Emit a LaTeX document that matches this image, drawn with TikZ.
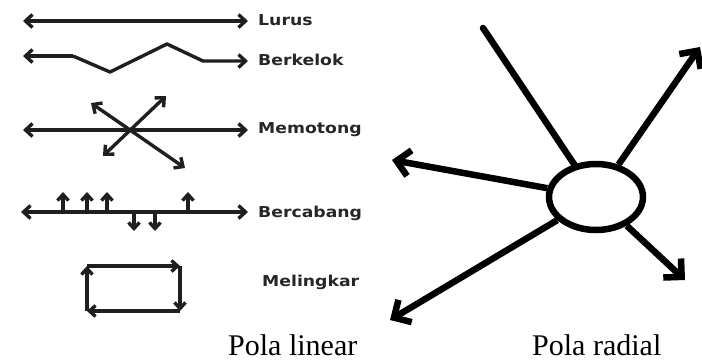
\documentclass[tikz,border=0pt]{standalone}
\usepackage{fontspec}
\setmainfont{Liberation Serif}
\newfontfamily\labelfont{DejaVu Sans}
\usetikzlibrary{arrows.meta,shapes.geometric}

\tikzset{
  tipthin/.tip={Straight Barb[length=7pt,width=13pt,line width=3.4pt]},
  tipsmall/.tip={Straight Barb[length=6pt,width=11pt,line width=3.4pt]},
  thinarrow/.style={line width=3.4pt, draw=black!88, -tipthin},
  botharrow/.style={line width=3.4pt, draw=black!88, tipthin-tipthin},
  smallarrow/.style={line width=3.4pt, draw=black!88, -tipsmall},
  patlabel/.style={anchor=base west, inner sep=0pt, xscale=1.15,
    font=\labelfont\bfseries\fontsize{15}{15}\selectfont, text=black!85},
  caption/.style={anchor=base west, inner sep=0pt,
    font=\fontsize{30}{30}\selectfont},
  thickline/.style={line width=6.5pt, line cap=round},
  thickarrow/.style={line width=6.5pt,
    -{Straight Barb[length=13pt,width=26pt,line width=6.5pt]}},
  hubstyle/.style={ellipse, draw, line width=6.5pt, minimum width=94pt,
    minimum height=66pt, inner sep=0pt}
}

\begin{document}
\begin{tikzpicture}[x=1pt,y=-1pt]
\useasboundingbox (0,0) rectangle (702,360);

% ---------- linear patterns ----------
% Lurus
\node[patlabel] (lurus) at (258,25.7) {Lurus};
\coordinate (l1) at (23,21);
\coordinate (l2) at (248,21);
\draw[botharrow] (l1) -- (l2);

% Berkelok
\node[patlabel] (berkelok) at (258,65.7) {Berkelok};
\coordinate (b1) at (23,56);
\coordinate (b2) at (73,56);
\coordinate (b3) at (110,72);
\coordinate (b4) at (167,44);
\coordinate (b5) at (203,61);
\coordinate (b6) at (248,61);
\draw[thinarrow] (b2) -- (b1);
\draw[thinarrow, line join=round] (b2) -- (b3) -- (b4) -- (b5) -- (b6);

% Memotong
\node[patlabel] (memotong) at (258,133.3) {Memotong};
\coordinate (m1) at (23,130);
\coordinate (m2) at (248,130);
\coordinate (mul) at (91,103);
\coordinate (mur) at (166,96);
\coordinate (mll) at (103,156);
\coordinate (mlr) at (185,168);
\draw[botharrow] (m1) -- (m2);
\draw[botharrow] (mul) -- (mlr);
\draw[botharrow] (mll) -- (mur);

% Bercabang
\node[patlabel] (bercabang) at (258,217.6) {Bercabang};
\coordinate (c1) at (21,212);
\coordinate (c2) at (248,212);
\draw[botharrow] (c1) -- (c2);
\foreach \x [count=\i] in {63,87,107,188}{
  \coordinate (up\i) at (\x,212);
  \coordinate (upt\i) at (\x,192);
  \draw[smallarrow] (up\i) -- (upt\i);
}
\foreach \x [count=\i] in {134,155}{
  \coordinate (dn\i) at (\x,212);
  \coordinate (dnt\i) at (\x,231);
  \draw[smallarrow] (dn\i) -- (dnt\i);
}

% Melingkar
\node[patlabel] (melingkar) at (262,286) {Melingkar};
\coordinate (r1) at (87,266);
\coordinate (r2) at (180,266);
\coordinate (r3) at (180,311);
\coordinate (r4) at (87,311);
\draw[smallarrow] (r4) -- (r1);
\draw[smallarrow] (r1) -- (r2);
\draw[smallarrow] (r2) -- (r3);
\draw[smallarrow] (r3) -- (r4);

\node[caption] (linear) at (228,355) {Pola linear};

% ---------- radial pattern ----------
\node[hubstyle] (hub) at (596,197) {};
\coordinate (ra) at (483,28);
\coordinate (rb) at (700,47);
\coordinate (rc) at (392,160);
\coordinate (rd) at (390,320);
\coordinate (re) at (685,280);
\draw[thickline] (ra) -- (hub);
\draw[thickarrow] (hub) -- (rb);
\draw[thickarrow] (hub) -- (rc);
\draw[thickarrow] (hub) -- (rd);
\draw[thickarrow] (hub) -- (re);

\node[caption] (radial) at (532,355) {Pola radial};
\end{tikzpicture}
\end{document}
